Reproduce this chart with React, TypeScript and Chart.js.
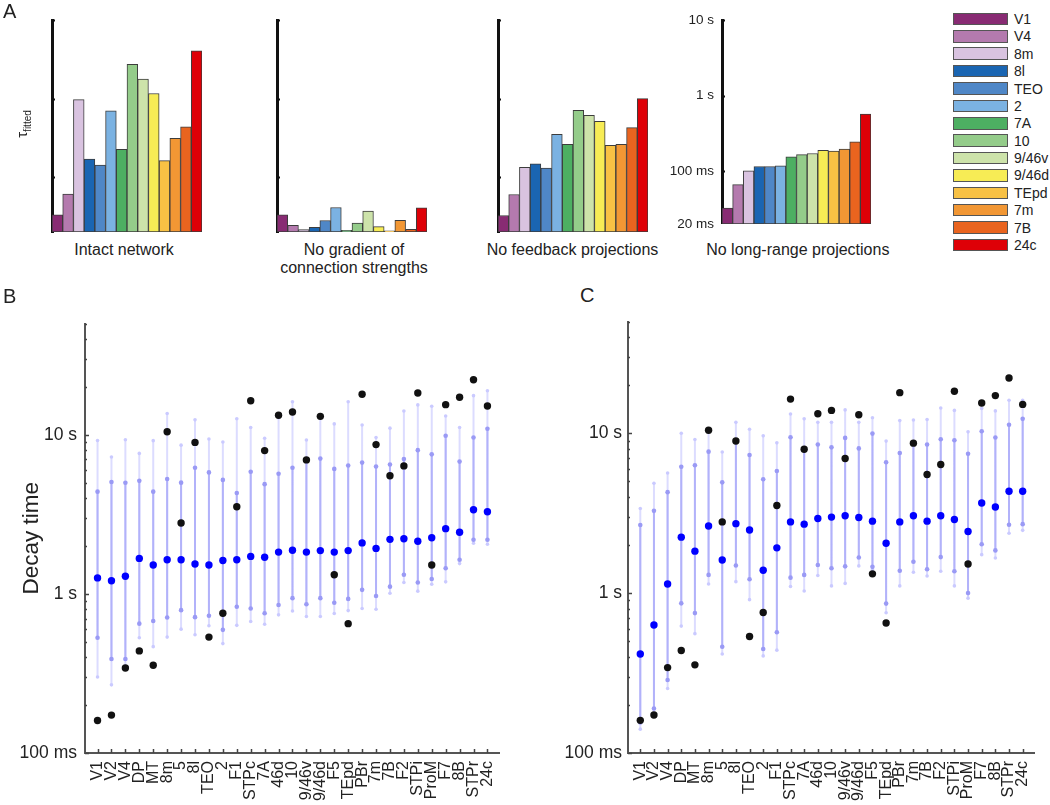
import React, { useEffect, useRef } from 'react';
import { Chart, registerables } from 'chart.js';

Chart.register(...registerables);

const FONT = '"Liberation Sans", Arial, Helvetica, sans-serif';
Chart.defaults.font.family = FONT;
Chart.defaults.color = '#222';

// ---------- Panel A data ----------
const AREAS_A = ['V1', 'V4', '8m', '8l', 'TEO', '2', '7A', '10', '9/46v', '9/46d', 'TEpd', '7m', '7B', '24c'];
const AREA_COLORS = ['#882B73', '#B47AAE', '#D9C3E0', '#1A65B2', '#4F87C7', '#7BB2E2', '#4DAF62', '#94CC8A', '#CDE3AA', '#F7EC55', '#F8C144', '#F29734', '#E9641F', '#DE0007'];
const INTACT = [0.033, 0.0607, 0.97, 0.17, 0.142, 0.7, 0.225, 2.72, 1.77, 1.16, 0.162, 0.312, 0.435, 4.06];
const NO_GRADIENT = [0.033, 0.0244, 0.0215, 0.023, 0.028, 0.041, 0.021, 0.026, 0.037, 0.0234, 0.0207, 0.0282, 0.0217, 0.0406];
const NO_FEEDBACK = [0.0324, 0.06, 0.133, 0.148, 0.13, 0.35, 0.261, 0.71, 0.612, 0.514, 0.254, 0.261, 0.426, 1.0];
const NO_LONG_RANGE = [0.0324, 0.0663, 0.101, 0.115, 0.115, 0.117, 0.154, 0.165, 0.171, 0.189, 0.184, 0.195, 0.244, 0.567];
const A_TICK_VALUES = [0.02, 0.1, 1, 10];
const A_TICK_LABELS = ['20 ms', '100 ms', '1 s', '10 s'];
const A_TITLES = [['Intact network'], ['No gradient of', 'connection strengths'], ['No feedback projections'], ['No long-range projections']];

// ---------- Panels B / C data (seconds) ----------
const CATS = ['V1', 'V2', 'V4', 'DP', 'MT', '8m', '5', '8l', 'TEO', '2', 'F1', 'STPc', '7A', '46d', '10', '9/46v', '9/46d', 'F5', 'TEpd', 'PBr', '7m', '7B', 'F2', 'STPi', 'ProM', 'F7', '8B', 'STPr', '24c'];
const OBSERVED = [0.16, 0.173, 0.342, 0.438, 0.356, 10.45, 2.79, 8.95, 0.535, 0.756, 3.53, 16.35, 7.95, 13.25, 13.9, 6.95, 13.05, 1.32, 0.65, 17.95, 8.67, 5.52, 6.37, 18.3, 1.52, 15.45, 17.2, 22.15, 15.15];

const B_MEDIAN = [1.26, 1.21, 1.29, 1.67, 1.52, 1.64, 1.64, 1.54, 1.52, 1.62, 1.64, 1.72, 1.7, 1.83, 1.88, 1.83, 1.87, 1.83, 1.87, 2.09, 1.93, 2.2, 2.22, 2.14, 2.25, 2.57, 2.44, 3.38, 3.28];
const B_Q_HI = [4.39, 5.05, 4.99, 5.13, 4.39, 5.27, 5.0, 6.2, 5.8, 5.2, 4.3, 5.85, 4.89, 5.69, 6.2, 7.0, 7.08, 6.1, 6.4, 6.68, 6.31, 6.5, 7.04, 8.0, 7.53, 9.86, 6.78, 9.6, 10.9];
const B_Q_LO = [0.53, 0.39, 0.39, 0.65, 0.675, 0.711, 0.79, 0.714, 0.728, 0.594, 0.83, 0.81, 0.756, 0.851, 0.94, 0.86, 0.94, 0.88, 0.93, 1.06, 0.97, 1.11, 1.32, 1.18, 1.24, 1.45, 1.64, 2.19, 2.19];
const B_P_HI = [9.2, 7.24, 9.3, 7.63, 9.18, 13.6, 8.6, 12.4, 9.4, 9.0, 12.6, 11.1, 9.5, 12.8, 16.1, 9.27, 13.0, 11.7, 16.1, 11.5, 9.6, 11.0, 14.1, 15.4, 15.1, 13.1, 11.1, 17.6, 18.9];
const B_P_LO = [0.3, 0.268, 0.35, 0.53, 0.466, 0.535, 0.6, 0.553, 0.63, 0.487, 0.634, 0.67, 0.644, 0.738, 0.78, 0.72, 0.72, 0.753, 0.785, 0.81, 0.8, 1.01, 1.18, 1.04, 1.15, 1.19, 1.55, 2.08, 2.05];

const C_MEDIAN = [0.416, 0.632, 1.14, 2.24, 1.83, 2.63, 1.61, 2.72, 2.48, 1.39, 1.92, 2.79, 2.7, 2.93, 2.99, 3.05, 2.97, 2.82, 2.05, 2.79, 3.05, 2.82, 3.05, 2.89, 2.43, 3.66, 3.46, 4.34, 4.34];
const C_Q_HI = [2.67, 3.27, 4.28, 6.17, 6.31, 7.67, 4.93, 9.0, 7.31, 5.15, 5.8, 9.44, 8.0, 8.51, 8.16, 9.35, 8.04, 9.95, 6.59, 7.53, 8.6, 8.51, 9.18, 9.05, 7.45, 10.3, 9.4, 11.3, 12.3];
const C_Q_LO = [0.155, 0.19, 0.286, 0.863, 0.75, 1.3, 0.462, 1.49, 1.22, 0.447, 0.569, 1.25, 1.3, 1.5, 1.43, 1.47, 1.67, 1.46, 0.86, 1.38, 1.57, 1.41, 1.68, 1.37, 1.0, 2.02, 1.85, 2.68, 2.7];
const C_P_HI = [3.38, 4.87, 5.64, 10.0, 9.14, 10.6, 7.63, 11.7, 10.6, 9.63, 8.71, 13.2, 12.3, 11.7, 11.7, 14.0, 11.7, 12.5, 8.93, 12.0, 12.1, 12.2, 14.4, 13.9, 10.2, 14.3, 13.8, 16.1, 16.1];
const C_P_LO = [0.141, 0.17, 0.253, 0.622, 0.558, 1.14, 0.416, 1.18, 0.91, 0.405, 0.44, 1.1, 1.03, 1.29, 1.11, 1.15, 1.48, 1.4, 0.753, 1.11, 1.35, 1.28, 1.37, 1.11, 0.93, 1.74, 1.66, 2.37, 2.47];

const DECAY_TICK_VALUES = [0.1, 1, 10];
const DECAY_TICK_LABELS = ['100 ms', '1 s', '10 s'];
const DECAY_MIN = 0.1;
const DECAY_MAX = 50;

// ---------- plugin: inward tick marks ----------
const inwardTicks = {
  id: 'inwardTicks',
  afterDraw(chart: any, _args: any, opts: any) {
    const { ctx, chartArea: a, scales } = chart;
    ctx.save();
    ctx.strokeStyle = opts.color || '#222';
    ctx.lineWidth = opts.lineWidth || 1;
    ctx.beginPath();
    const ys = opts.y || [];
    for (let i = 0; i < ys.length; i++) {
      const t = ys[i];
      const y = Math.round(scales.y.getPixelForValue(t.value)) + 0.5;
      ctx.moveTo(a.left, y);
      ctx.lineTo(a.left + t.len, y);
    }
    const xs = opts.x || [];
    for (let i = 0; i < xs.length; i++) {
      const t = xs[i];
      const x = Math.round(scales.x.getPixelForValue(t.value)) + 0.5;
      ctx.moveTo(x, a.bottom);
      ctx.lineTo(x, a.bottom - t.len);
    }
    ctx.stroke();
    ctx.restore();
  },
};

function barConfig(values: number[], yWidth: number, padRight: number, height: number, showLabels: boolean) {
  return {
    type: 'bar',
    data: {
      labels: AREAS_A,
      datasets: [
        {
          data: values.map((v) => [A_TICK_VALUES[0], v]),
          backgroundColor: AREA_COLORS,
          borderColor: '#3c3c3c',
          borderWidth: 1,
          borderSkipped: false,
          barPercentage: 1,
          categoryPercentage: 1,
        },
      ],
    },
    options: {
      responsive: false,
      animation: false,
      events: [],
      layout: { padding: { top: 20, right: padRight, bottom: height - 232, left: 0 } },
      plugins: {
        legend: { display: false },
        tooltip: { enabled: false },
        inwardTicks: {
          color: '#111',
          lineWidth: 2,
          y: [{ value: 0.1, len: 3 }, { value: 1, len: 3 }, { value: 10, len: 3 }],
        },
      },
      scales: {
        x: { display: false },
        y: {
          type: 'logarithmic',
          min: A_TICK_VALUES[0],
          max: A_TICK_VALUES[A_TICK_VALUES.length - 1],
          grid: { display: false, drawTicks: false },
          border: { display: true, width: 3, color: '#111' },
          ticks: {
            display: showLabels,
            padding: 8,
            color: '#222',
            font: { size: 13.5 },
            callback: (v: number) => {
              const i = A_TICK_VALUES.indexOf(v);
              return i >= 0 ? A_TICK_LABELS[i] : '';
            },
          },
          afterBuildTicks: (s: any) => {
            s.ticks = A_TICK_VALUES.map((v) => ({ value: v }));
          },
          afterFit: (s: any) => {
            s.width = yWidth;
          },
        },
      },
    },
    plugins: [inwardTicks],
  };
}

function decayConfig(
  median: number[], qLo: number[], qHi: number[], pLo: number[], pHi: number[],
  yWidth: number, padRight: number, labelPad: number, yTitle: boolean
) {
  const pts = (arr: number[]) => arr.map((v, i) => ({ x: i, y: v }));
  const segs = (lo: number[], hi: number[]) =>
    lo.flatMap((v, i) => [{ x: i, y: v }, { x: i, y: hi[i] }, { x: i, y: null as any }]);
  const minor: { value: number; len: number }[] = [];
  for (let d = DECAY_MIN; d < DECAY_MAX; d *= 10) {
    for (let k = 1; k <= 9; k++) {
      const v = k * d;
      if (v <= DECAY_MAX) minor.push({ value: v, len: k === 1 ? 4 : 2 });
    }
  }
  return {
    type: 'scatter',
    data: {
      datasets: [
        { label: 'Observed', data: pts(OBSERVED), pointRadius: 3.7, pointBackgroundColor: '#111', pointBorderWidth: 0 },
        { label: 'Median', data: pts(median), pointRadius: 3.7, pointBackgroundColor: '#0000ff', pointBorderWidth: 0 },
        { label: 'Quartiles', data: [...pts(qLo), ...pts(qHi)], pointRadius: 2.3, pointBackgroundColor: '#9a9af5', pointBorderWidth: 0 },
        { label: 'Range', data: [...pts(pLo), ...pts(pHi)], pointRadius: 1.8, pointBackgroundColor: '#cacaff', pointBorderWidth: 0 },
        { label: 'Quartile bar', data: segs(qLo, qHi), showLine: true, borderColor: '#b2b2fa', borderWidth: 2, pointRadius: 0 },
        { label: 'Range bar', data: segs(pLo, pHi), showLine: true, borderColor: '#dcdcff', borderWidth: 2, pointRadius: 0 },
      ],
    },
    options: {
      responsive: false,
      animation: false,
      events: [],
      layout: { padding: { top: 11, right: padRight, bottom: 0, left: 0 } },
      plugins: {
        legend: { display: false },
        tooltip: { enabled: false },
        inwardTicks: {
          color: '#444',
          lineWidth: 1.5,
          y: minor,
          x: CATS.map((_, i) => ({ value: i, len: 4 })),
        },
      },
      scales: {
        x: {
          type: 'linear',
          min: -0.9,
          max: CATS.length - 0.1,
          grid: { display: false, drawTicks: false },
          border: { display: true, width: 2, color: '#555' },
          ticks: {
            autoSkip: false,
            maxRotation: 90,
            minRotation: 90,
            padding: 8,
            color: '#222',
            font: { size: 16 },
            callback: (v: number) => CATS[v] ?? '',
          },
          afterBuildTicks: (s: any) => {
            s.ticks = CATS.map((_, i) => ({ value: i }));
          },
          afterFit: (s: any) => {
            s.height = 52;
          },
        },
        y: {
          type: 'logarithmic',
          min: DECAY_MIN,
          max: DECAY_MAX,
          grid: { display: false, drawTicks: false },
          border: { display: true, width: 2, color: '#555' },
          ticks: {
            padding: labelPad,
            color: '#222',
            font: { size: 17.5 },
            callback: (v: number) => {
              const i = DECAY_TICK_VALUES.indexOf(v);
              return i >= 0 ? DECAY_TICK_LABELS[i] : '';
            },
          },
          title: yTitle
            ? { display: true, text: 'Decay time', color: '#222', font: { size: 22.5 }, padding: { top: 18.5, bottom: 0 } }
            : { display: false },
          afterBuildTicks: (s: any) => {
            s.ticks = DECAY_TICK_VALUES.map((v) => ({ value: v }));
          },
          afterFit: (s: any) => {
            s.width = yWidth;
          },
        },
      },
    },
    plugins: [inwardTicks],
  };
}

function ChartBox(props: { left: number; top: number; width: number; height: number; make: () => any }) {
  const ref = useRef<HTMLCanvasElement>(null);
  useEffect(() => {
    const chart = new Chart(ref.current as HTMLCanvasElement, props.make());
    return () => chart.destroy();
  }, []);
  return (
    <canvas
      ref={ref}
      width={props.width}
      height={props.height}
      style={{ position: 'absolute', left: props.left, top: props.top, width: props.width, height: props.height }}
    />
  );
}

const text = (style: React.CSSProperties): React.CSSProperties => ({
  position: 'absolute',
  fontFamily: FONT,
  color: '#222',
  whiteSpace: 'nowrap',
  ...style,
});

export default function App() {
  const A_H = 240;
  const titleCenters = [124, 354, 572.5, 797.8];
  return (
    <div style={{ position: 'absolute', left: 0, top: 0, width: 1050, height: 805, background: '#fff', overflow: 'hidden' }}>
      <ChartBox left={0} top={0} width={215} height={A_H} make={() => barConfig(INTACT, 52, 13, A_H, false)} />
      <ChartBox left={225} top={0} width={215} height={A_H} make={() => barConfig(NO_GRADIENT, 52, 13, A_H, false)} />
      <ChartBox left={445} top={0} width={215} height={A_H} make={() => barConfig(NO_FEEDBACK, 53, 12, A_H, false)} />
      <ChartBox left={660} top={0} width={225} height={A_H} make={() => barConfig(NO_LONG_RANGE, 62, 14, A_H, true)} />

      {A_TITLES.map((lines, k) => (
        <div key={k} style={text({ left: titleCenters[k], top: 240.8, transform: 'translateX(-50%)', fontSize: 16, lineHeight: '18.4px', textAlign: 'center' })}>
          {lines.map((l, j) => (
            <div key={j}>{l}</div>
          ))}
        </div>
      ))}

      <div style={text({ left: 25, top: 124, transform: 'translate(-50%, -50%) rotate(-90deg)', fontSize: 15, lineHeight: '16px' })}>
        τ<sub style={{ fontSize: 10 }}>fitted</sub>
      </div>

      {AREAS_A.map((name, i) => {
        const cy = 19 + 17.38 * i;
        return (
          <React.Fragment key={name}>
            <div style={{ position: 'absolute', left: 953, top: cy - 6.3, width: 55, height: 12.6, background: AREA_COLORS[i], border: '1px solid #555', boxSizing: 'border-box' }} />
            <div style={text({ left: 1014, top: cy - 9, fontSize: 14, lineHeight: '18px' })}>{name}</div>
          </React.Fragment>
        );
      })}

      <div style={text({ left: 3, top: 1, fontSize: 20, lineHeight: '20px' })}>A</div>
      <div style={text({ left: 3, top: 286, fontSize: 20, lineHeight: '20px' })}>B</div>
      <div style={text({ left: 580, top: 285, fontSize: 20, lineHeight: '20px' })}>C</div>

      <ChartBox left={0} top={305} width={515} height={500} make={() => decayConfig(B_MEDIAN, B_Q_LO, B_Q_HI, B_P_LO, B_P_HI, 85, 12, 8, true)} />
      <ChartBox left={545} top={305} width={505} height={500} make={() => decayConfig(C_MEDIAN, C_Q_LO, C_Q_HI, C_P_LO, C_P_HI, 83, 3, 6, false)} />
    </div>
  );
}
